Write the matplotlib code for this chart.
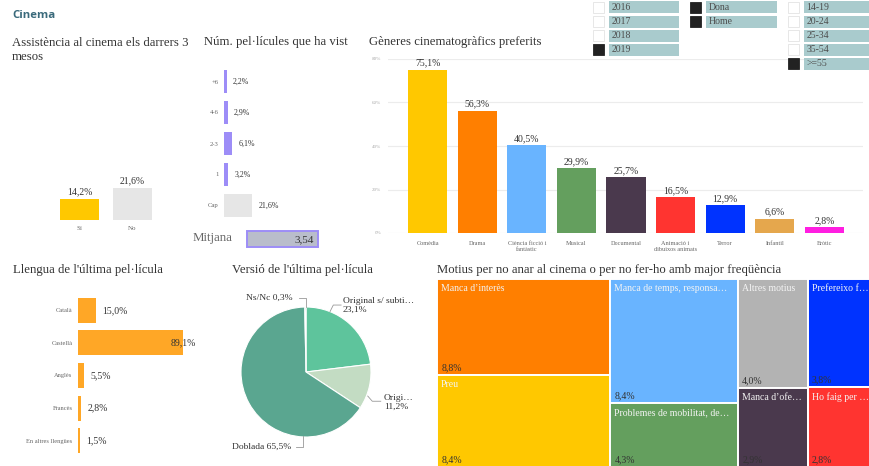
import matplotlib.pyplot as plt
from matplotlib.patches import Rectangle

W, H = 869, 466
plt.rcParams['font.family'] = ['Liberation Serif', 'DejaVu Serif']

# ---- data ----
attend_cats = ['Sí', 'No']
attend_vals = [14.2, 21.6]

films_cats = ['+6', '4-6', '2-3', '1', 'Cap']
films_vals = [2.2, 2.9, 6.1, 3.2, 21.6]
films_mean = 3.54

genre_cats = ['Comèdia', 'Drama', 'Ciència ficció i\nfantàstic', 'Musical', 'Documental',
              'Animació i\ndibuixos animats', 'Terror', 'Infantil', 'Eròtic']
genre_vals = [75.1, 56.3, 40.5, 29.9, 25.7, 16.5, 12.9, 6.6, 2.8]
genre_colors = ['#ffc800', '#ff7f00', '#69b4ff', '#649f5e', '#4a394d',
                '#ff3430', '#0033ff', '#e5a74d', '#ff1ee1']

lang_cats = ['Català', 'Castellà', 'Anglès', 'Francès', 'En altres llengües']
lang_vals = [15.0, 89.1, 5.5, 2.8, 1.5]

version_cats = ['Original s/ subti…', 'Origi…', 'Doblada', 'Ns/Nc']
version_vals = [23.1, 11.2, 65.5, 0.3]
version_colors = ['#5ec49c', '#c3dcc3', '#5aa690', '#3f8b76']

reason_cats = ['Manca d’interès', 'Preu', 'Manca de temps, responsa…',
               'Problemes de mobilitat, de…', 'Altres motius', 'Prefereixo f…',
               'Manca d’ofe…', 'Ho faig per …']
reason_vals = [8.8, 8.4, 8.4, 4.3, 4.0, 3.8, 2.9, 2.8]
reason_colors = ['#ff7f00', '#ffc800', '#69b4ff', '#649f5e', '#b3b3b3',
                 '#0033ff', '#4a394d', '#ff3430']
reason_columns = [[0, 1], [2, 3], [4, 6], [5, 7]]

filter_years = ['2016', '2017', '2018', '2019']
filter_years_on = [False, False, False, True]
filter_sex = ['Dona', 'Home']
filter_sex_on = [True, True]
filter_age = ['14-19', '20-24', '25-34', '35-54', '>=55']
filter_age_on = [False, False, False, False, True]

TXT = '#333333'
GREY = '#666666'


def pct(v):
    return f'{v:.1f}'.replace('.', ',') + '%'


fig = plt.figure(figsize=(W / 100, H / 100), dpi=100)


def add_px_axes(x0, y0, x1, y1):
    ax = fig.add_axes([x0 / W, 1 - y1 / H, (x1 - x0) / W, (y1 - y0) / H])
    for s in ax.spines.values():
        s.set_visible(False)
    ax.tick_params(length=0)
    ax.patch.set_alpha(0)
    return ax


# ---- assistència ----
ax1 = add_px_axes(53, 175.6, 159, 220)
ax1.bar(range(len(attend_vals)), attend_vals, width=0.736, color=['#ffc800', '#e6e6e6'])
ax1.set_xlim(-0.5, 1.5)
ax1.set_ylim(0, 30)
ax1.set_yticks([])
ax1.set_xticks(range(len(attend_cats)), attend_cats, fontsize=5, color=GREY)
ax1.tick_params(axis='x', pad=4)
for i, v in enumerate(attend_vals):
    ax1.annotate(pct(v), (i, v), xytext=(0, 2), textcoords='offset points',
                 ha='center', va='bottom', fontsize=7, color=TXT)

# ---- núm. pel·lícules ----
ax2 = add_px_axes(224, 66, 276, 221)
ax2.barh(range(len(films_vals)), films_vals, height=0.74,
         color=['#9d8df7'] * 4 + ['#e6e6e6'])
ax2.set_xlim(0, 40)
ax2.set_ylim(4.5, -0.5)
ax2.set_xticks([])
ax2.set_yticks(range(len(films_cats)), films_cats, fontsize=4.8, color=GREY)
ax2.tick_params(axis='y', pad=4)
for i, v in enumerate(films_vals):
    ax2.annotate(pct(v), (v, i), xytext=(4.5, 0), textcoords='offset points',
                 ha='left', va='center', fontsize=5.7, color=TXT)

# ---- gèneres ----
ax3 = add_px_axes(388, 59, 863, 233)
ax3.bar(range(len(genre_vals)), genre_vals, width=0.79, color=genre_colors, zorder=2)
ax3.set_xlim(-0.8, 8.78)
ax3.set_ylim(0, 80)
ax3.set_yticks([0, 20, 40, 60, 80], ['0%', '20%', '40%', '60%', '80%'],
               fontsize=3.6, color='#aaaaaa')
ax3.grid(axis='y', color='#ececec', linewidth=0.8, zorder=0)
ax3.set_xticks(range(len(genre_cats)), genre_cats, fontsize=4.5, color=GREY,
               linespacing=1.25, va='top')
ax3.tick_params(axis='x', pad=5.5)
ax3.tick_params(axis='y', pad=5)
for i, v in enumerate(genre_vals):
    ax3.annotate(pct(v), (i, v), xytext=(0, 1.5), textcoords='offset points',
                 ha='center', va='bottom', fontsize=7, color=TXT)

# ---- llengua ----
ax4 = add_px_axes(78, 294, 196, 457)
ax4.barh(range(len(lang_vals)), lang_vals, height=0.77, color='#ffa726')
ax4.set_xlim(0, 100)
ax4.set_ylim(4.5, -0.5)
ax4.set_xticks([])
ax4.set_yticks(range(len(lang_cats)), lang_cats, fontsize=4.6, color=GREY)
ax4.tick_params(axis='y', pad=4)
for i, v in enumerate(lang_vals):
    if v > 75:
        ax4.text(100, i, pct(v), ha='right', va='center', fontsize=7, color=TXT)
    else:
        ax4.annotate(pct(v), (v, i), xytext=(4.5, 0), textcoords='offset points',
                     ha='left', va='center', fontsize=7, color=TXT)

# ---- versió (pie) ----
ax5 = add_px_axes(241, 307, 371, 437)
ax5.pie(version_vals, colors=version_colors, startangle=90, counterclock=False,
        radius=1, wedgeprops=dict(edgecolor='white', linewidth=0.8))
ax5.set_xlim(-1, 1)
ax5.set_ylim(-1, 1)
lead = dict(color='#999999', linewidth=0.6, clip_on=False)
# Original s/ subtítols
ax5.plot([0.37, 0.42, 0.54], [0.93, 1.03, 1.03], **lead)
ax5.text(0.57, 1.03, version_cats[0] + '\n' + pct(version_vals[0]), ha='left',
         va='center', fontsize=6.8, color=TXT, linespacing=1.1)
# Original
ax5.plot([0.95, 1.02, 1.15], [-0.37, -0.45, -0.45], **lead)
ax5.text(1.2, -0.47, version_cats[1] + '\n' + pct(version_vals[1]), ha='left',
         va='center', fontsize=6.8, color=TXT, linespacing=1.1)
# Doblada
ax5.plot([-0.16, -0.05, -0.05], [-1.15, -1.15, -0.99], **lead)
ax5.text(-0.23, -1.15, version_cats[2] + ' ' + pct(version_vals[2]), ha='right',
         va='center', fontsize=6.8, color=TXT)
# Ns/Nc
ax5.plot([-0.11, 0.0, 0.0], [1.14, 1.14, 1.0], **lead)
ax5.text(-0.2, 1.14, version_cats[3] + ' ' + pct(version_vals[3]), ha='right',
         va='center', fontsize=6.8, color=TXT)

# ---- motius (treemap) ----
ax6 = add_px_axes(437, 279, 874, 467)
ax6.set_xlim(0, 1)
ax6.set_ylim(1, 0)
ax6.set_xticks([])
ax6.set_yticks([])
total = sum(reason_vals)
x = 0.0
for col in reason_columns:
    col_sum = sum(reason_vals[i] for i in col)
    w = col_sum / total
    y = 0.0
    for i in col:
        h = reason_vals[i] / col_sum
        ax6.add_patch(Rectangle((x, y), w, h, facecolor=reason_colors[i],
                                edgecolor='white', linewidth=1.4))
        ax6.annotate(reason_cats[i], (x, y), xytext=(3, -3.5), textcoords='offset points',
                     ha='left', va='top', fontsize=7, color='#f4f4f4',
                     annotation_clip=False)
        ax6.annotate(pct(reason_vals[i]), (x, y + h), xytext=(3, 2),
                     textcoords='offset points', ha='left', va='bottom',
                     fontsize=7, color=TXT, annotation_clip=False)
        y += h
    x += w

# ---- overlay: titles, filters, mean ----
ov = fig.add_axes([0, 0, 1, 1])
ov.set_xlim(0, W)
ov.set_ylim(H, 0)
ov.axis('off')

ov.text(12, 16, 'Cinema', family='Open Sans', fontweight='bold', fontsize=8.2,
        color='#3a6a7b', va='center')
title_kw = dict(fontsize=9.2, color=TXT, va='center', ha='left')
ov.text(12, 42.5, 'Assistència al cinema els darrers 3', **title_kw)
ov.text(12, 57, 'mesos', **title_kw)
ov.text(204, 42.5, 'Núm. pel·lícules que ha vist', **title_kw)
ov.text(369, 42, 'Gèneres cinematogràfics preferits', **title_kw)
ov.text(13, 270, "Llengua de l'última pel·lícula", **title_kw)
ov.text(232, 270, "Versió de l'última pel·lícula", **title_kw)
ov.text(437, 270, 'Motius per no anar al cinema o per no fer-ho amb major freqüència',
        **title_kw)

# mean box
ov.text(193, 238.5, 'Mitjana', fontsize=9.3, color=GREY, va='center', ha='left')
ov.add_patch(Rectangle((247, 231), 71, 16, facecolor='#b9bdcb', edgecolor='#9d8df7',
                       linewidth=1.4))
ov.text(314, 239.5, f'{films_mean:.2f}'.replace('.', ','), fontsize=8, color=TXT,
        ha='right', va='center')

# filter checkboxes (first row partly cut by the page edge)
row_y = [7, 21.5, 35.5, 49.5, 63.5]


def draw_filter(x_box, x_lab0, x_lab1, labels, states):
    for k, (lab, on) in enumerate(zip(labels, states)):
        yc = row_y[k]
        ov.add_patch(Rectangle((x_box, yc - 5.5), 10.5, 11,
                               facecolor='#222222' if on else 'white',
                               edgecolor='#222222' if on else '#e3e3e3', linewidth=0.6))
        ov.add_patch(Rectangle((x_lab0, yc - 6), x_lab1 - x_lab0, 12,
                               facecolor='#a9cbcd', edgecolor='none'))
        ov.text(x_lab0 + 2.5, yc + 0.5, lab, fontsize=7, color='#4d4d4d',
                va='center', ha='left')


draw_filter(593, 609, 679, filter_years, filter_years_on)
draw_filter(690, 706, 777, filter_sex, filter_sex_on)
draw_filter(788, 804, 872, filter_age, filter_age_on)

fig.savefig('out.png', dpi=100)
